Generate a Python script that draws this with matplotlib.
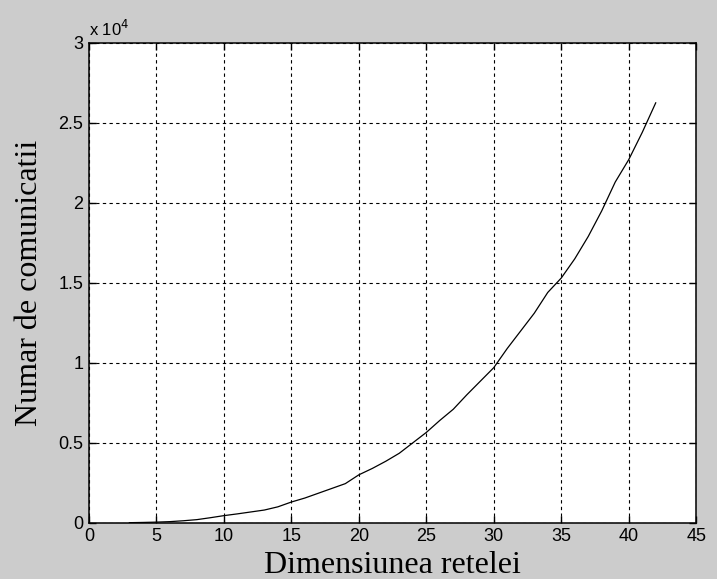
import matplotlib
matplotlib.use('Agg')
import matplotlib.pyplot as plt
from matplotlib.ticker import FuncFormatter

# dimensiunea retelei vs numar de comunicatii
dim = [3, 4, 5, 6, 7, 8, 9, 10, 11, 12, 13, 14, 15, 16, 17, 18, 19, 20, 21, 22,
       23, 24, 25, 26, 27, 28, 29, 30, 31, 32, 33, 34, 35, 36, 37, 38, 39, 40, 41, 42]
comm = [10, 25, 45, 75, 130, 200, 320, 450, 560, 680, 800, 1000, 1300, 1550, 1850,
        2150, 2450, 3000, 3400, 3850, 4350, 5000, 5650, 6400, 7100, 8000, 8850, 9700,
        10900, 12000, 13100, 14400, 15300, 16500, 17900, 19500, 21300, 22700, 24400, 26250]

xticks = [0, 5, 10, 15, 20, 25, 30, 35, 40, 45]
yticks = [0, 5000, 10000, 15000, 20000, 25000, 30000]

bg = '#cccccc'
fig = plt.figure(figsize=(7.17, 5.79), dpi=100, facecolor=bg)
ax = fig.add_axes([0.124, 0.097, 0.847, 0.829])
ax.set_facecolor('white')

ax.plot(dim, comm, color='black', lw=0.9)

ax.set_xlim(0, 45)
ax.set_ylim(0, 30000)
ax.set_xticks(xticks)
ax.set_yticks(yticks)
ax.yaxis.set_major_formatter(FuncFormatter(lambda v, p: '%g' % (v / 1e4)))

ax.grid(True, color='black', linestyle=(0, (3, 3)), lw=0.8)
ax.tick_params(direction='in', top=True, right=True, length=5, width=1,
               labelsize=13, pad=4, colors='black')
for lab in ax.get_xticklabels() + ax.get_yticklabels():
    lab.set_family('Liberation Sans')
for s in ax.spines.values():
    s.set_linewidth(1.1)
    s.set_color('black')

ax.text(0.0, 1.008, r'x 10$^4$', transform=ax.transAxes, fontsize=12,
        family='Liberation Sans', va='bottom', ha='left')

ax.set_xlabel('Dimensiunea retelei', family='Liberation Serif', fontsize=23, labelpad=4)
ax.set_ylabel('Numar de comunicatii', family='Liberation Serif', fontsize=23, labelpad=10)

fig.savefig('out.png', dpi=100, facecolor=bg)
